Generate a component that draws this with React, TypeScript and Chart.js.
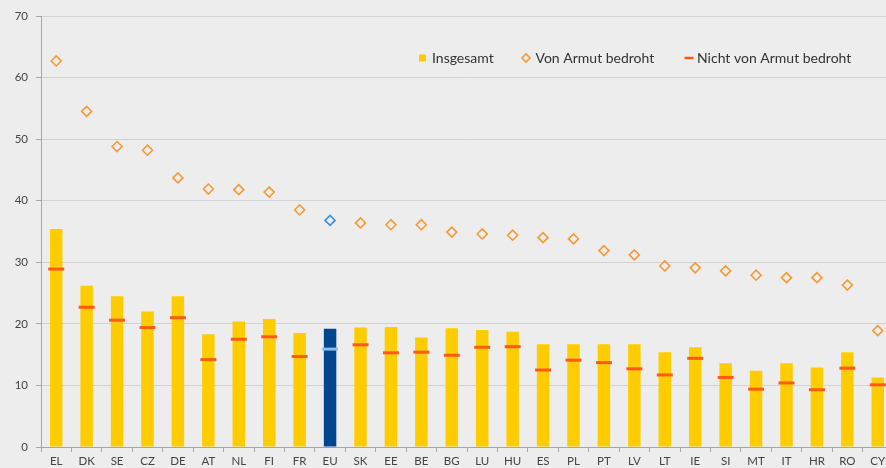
import React, { useEffect, useRef } from "react";
import { Chart, registerables } from "chart.js";

Chart.register(...registerables);

const categories = ["EL","DK","SE","CZ","DE","AT","NL","FI","FR","EU","SK","EE","BE","BG","LU","HU","ES","PL","PT","LV","LT","IE","SI","MT","IT","HR","RO","CY"];
const insgesamt = [35.4,26.2,24.5,22.0,24.5,18.3,20.4,20.8,18.5,19.2,19.4,19.5,17.8,19.3,19.0,18.7,16.7,16.7,16.7,16.7,15.4,16.2,13.6,12.4,13.6,12.9,15.4,11.3];
const vonArmut = [62.7,54.5,48.8,48.2,43.7,41.9,41.8,41.4,38.5,36.8,36.4,36.1,36.1,34.9,34.6,34.4,34.0,33.8,31.9,31.2,29.4,29.1,28.6,27.9,27.5,27.5,26.3,18.9];
const nichtArmut = [28.9,22.7,20.6,19.4,21.0,14.2,17.5,17.9,14.7,15.9,16.6,15.3,15.4,14.9,16.2,16.3,12.5,14.1,13.7,12.7,11.7,14.4,11.3,9.4,10.4,9.3,12.8,10.1];
const seriesLabels = ["Insgesamt", "Von Armut bedroht", "Nicht von Armut bedroht"];
const highlight = "EU";

const YELLOW = "#FFCC00";
const NAVY = "#00468F";
const ORANGE = "#F59A35";
const BLUE = "#3D8FE8";
const RED = "#FF5A14";
const LIGHTBLUE = "#8DBBEE";
const FONT = "Lato, 'Open Sans', sans-serif";

const legendPlugin = {
  id: "customLegend",
  afterDraw(chart: any) {
    const ctx = chart.ctx;
    const ca = chart.chartArea;
    const y = ca.top + 42;
    ctx.save();
    ctx.font = `14px ${FONT}`;
    ctx.fillStyle = "#333333";
    ctx.textBaseline = "middle";
    ctx.textAlign = "left";
    let x = ca.left + 378;
    ctx.fillStyle = YELLOW;
    ctx.fillRect(x, y - 3.5, 7, 7);
    ctx.fillStyle = "#333333";
    ctx.fillText(seriesLabels[0], x + 13, y);
    x = ca.left + 485;
    ctx.strokeStyle = ORANGE;
    ctx.lineWidth = 1.6;
    ctx.beginPath();
    ctx.moveTo(x - 4, y);
    ctx.lineTo(x, y - 4);
    ctx.lineTo(x + 4, y);
    ctx.lineTo(x, y + 4);
    ctx.closePath();
    ctx.stroke();
    ctx.fillText(seriesLabels[1], x + 9.5, y);
    x = ca.left + 643.5;
    ctx.strokeStyle = RED;
    ctx.lineWidth = 2.5;
    ctx.beginPath();
    ctx.moveTo(x, y);
    ctx.lineTo(x + 9, y);
    ctx.stroke();
    ctx.fillText(seriesLabels[2], x + 12.5, y);
    ctx.restore();
  },
};

export default function App() {
  const ref = useRef<HTMLCanvasElement | null>(null);
  useEffect(() => {
    if (!ref.current) return;
    const isHl = (i: number) => categories[i] === highlight;
    const chart = new Chart(ref.current, {
      type: "bar",
      data: {
        labels: categories,
        datasets: [
          {
            type: "line",
            label: seriesLabels[2],
            data: nichtArmut,
            showLine: false,
            pointStyle: "line",
            pointRadius: 8,
            pointBorderWidth: 3,
            pointBorderColor: categories.map((_, i) => (isHl(i) ? LIGHTBLUE : RED)),
            pointBackgroundColor: categories.map((_, i) => (isHl(i) ? LIGHTBLUE : RED)),
            order: 1,
          } as any,
          {
            type: "line",
            label: seriesLabels[1],
            data: vonArmut,
            showLine: false,
            pointStyle: "rectRot",
            pointRadius: 5,
            pointBorderWidth: 1.6,
            pointBorderColor: categories.map((_, i) => (isHl(i) ? BLUE : ORANGE)),
            pointBackgroundColor: "rgba(0,0,0,0)",
            order: 2,
          } as any,
          {
            type: "bar",
            label: seriesLabels[0],
            data: insgesamt,
            backgroundColor: categories.map((_, i) => (isHl(i) ? NAVY : YELLOW)),
            borderWidth: 0,
            barPercentage: 0.41,
            categoryPercentage: 1,
            order: 3,
          } as any,
        ],
      },
      options: {
        animation: false,
        responsive: false,
        devicePixelRatio: 1,
        layout: { padding: { top: 16, right: 0, left: 0, bottom: 0 } },
        plugins: {
          legend: { display: false },
          tooltip: { enabled: false },
          title: { display: false },
        },
        scales: {
          x: {
            offset: true,
            grid: {
              offset: true,
              drawOnChartArea: false,
              drawTicks: true,
              tickLength: 5,
              color: "#A6A6A6",
            },
            border: { color: "#A6A6A6", width: 1 },
            ticks: {
              color: "#444444",
              font: { family: FONT, size: 11.5 },
              padding: 2,
              maxRotation: 0,
              autoSkip: false,
            },
            afterFit: (scale: any) => {
              scale.height = 21;
            },
          },
          y: {
            min: 0,
            max: 70,
            ticks: {
              stepSize: 10,
              color: "#444444",
              font: { family: FONT, size: 11.5 },
              padding: 8,
            },
            grid: {
              color: "#D2D2D2",
              tickColor: "#A6A6A6",
              tickLength: 5,
            },
            border: { color: "#A6A6A6", width: 1 },
            afterFit: (scale: any) => {
              scale.width = 41;
            },
          },
        },
      },
      plugins: [legendPlugin],
    });
    return () => chart.destroy();
  }, []);

  return (
    <div
      style={{
        position: "fixed",
        left: 0,
        top: 0,
        width: 886,
        height: 468,
        overflow: "hidden",
        background: "#EDEDED",
      }}
    >
      <canvas ref={ref} width={904} height={468} style={{ display: "block", width: 904, height: 468 }} />
    </div>
  );
}
